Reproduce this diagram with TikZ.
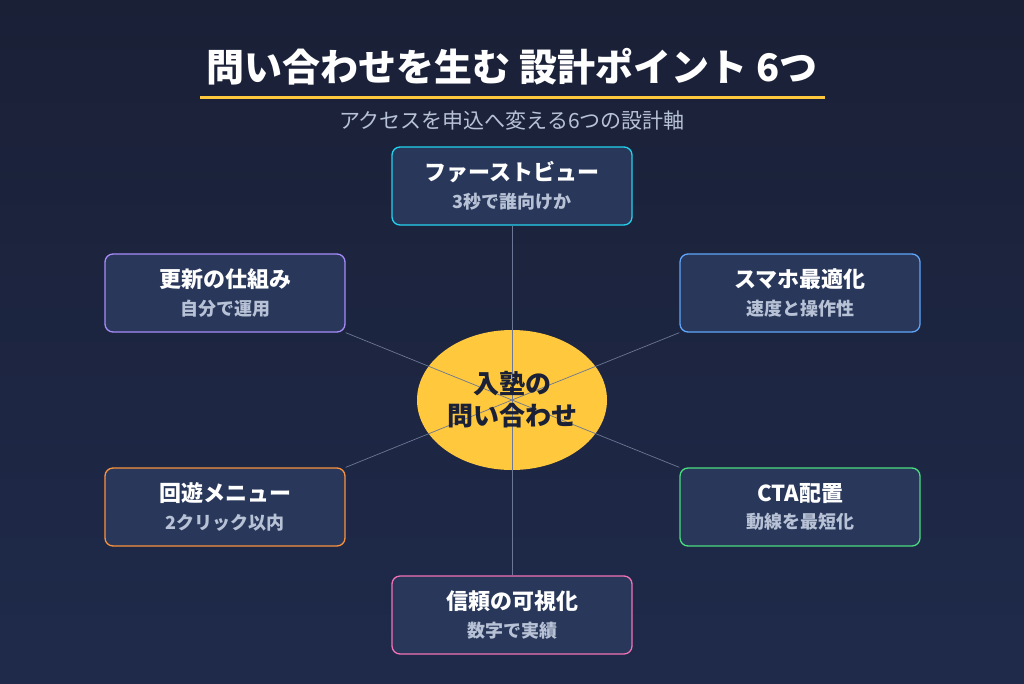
\documentclass[tikz,border=0pt]{standalone}
\usepackage{fontspec}
\usetikzlibrary{shapes.geometric}
\setmainfont{Noto Sans CJK JP}
\begin{document}
\begin{tikzpicture}[x=1pt,y=-1pt,
  box/.style={draw,line width=1.3pt,rounded corners=8pt,fill=boxfill,minimum width=240pt,minimum height=78pt,align=center,text=white,inner sep=0pt},
  link/.style={draw=linkc,line width=0.7pt}]
\definecolor{bgtop}{HTML}{1A2036}
\definecolor{bgbot}{HTML}{1F2A4B}
\definecolor{boxfill}{HTML}{28375A}
\definecolor{linkc}{HTML}{6B7794}
\definecolor{subc}{HTML}{B8C2D6}
\definecolor{gold}{HTML}{FFC83D}
\definecolor{cT}{HTML}{22D3EE}
\definecolor{cLU}{HTML}{A78BFA}
\definecolor{cRU}{HTML}{60A5FA}
\definecolor{cLL}{HTML}{FB923C}
\definecolor{cRL}{HTML}{4ADE80}
\definecolor{cB}{HTML}{F472B6}
\shade[top color=bgtop,bottom color=bgbot] (0,0) rectangle (1024,683);
\useasboundingbox (0,0) rectangle (1024,683);
\node[text=white,font=\bfseries\fontsize{38}{44}\selectfont] (title) at (512,67) {問い合わせを生む 設計ポイント 6つ};
\draw[gold,line width=3pt] (200,97) -- (825,97);
\node[text=subc,font=\fontsize{21}{25}\selectfont] (sub) at (512,121) {アクセスを申込へ変える6つの設計軸};
\newcommand{\bx}[5]{\node[box,draw=#2] (#1) at (#3) {{\bfseries\fontsize{22}{26}\selectfont #4}\\[9pt]{\color{subc}\bfseries\fontsize{18}{21}\selectfont #5}};}
\bx{t}{cT}{512,186}{ファーストビュー}{3秒で誰向けか}
\bx{lu}{cLU}{225,293}{更新の仕組み}{自分で運用}
\bx{ru}{cRU}{800,293}{スマホ最適化}{速度と操作性}
\bx{ll}{cLL}{225,507}{回遊メニュー}{2クリック以内}
\bx{rl}{cRL}{800,507}{CTA配置}{動線を最短化}
\bx{b}{cB}{512,615}{信頼の可視化}{数字で実績}
\node[ellipse,fill=gold,minimum width=190pt,minimum height=140pt] (c) at (512,400) {};
\foreach \n/\a in {t/south,b/north,lu/south east,ru/south west,ll/north east,rl/north west}
  \draw[link] (\n.\a) -- (c.center);
\node[align=center,text=bgtop,font=\bfseries\fontsize{26}{32}\selectfont] (ct) at (512,400) {入塾の\\問い合わせ};
\end{tikzpicture}
\end{document}
